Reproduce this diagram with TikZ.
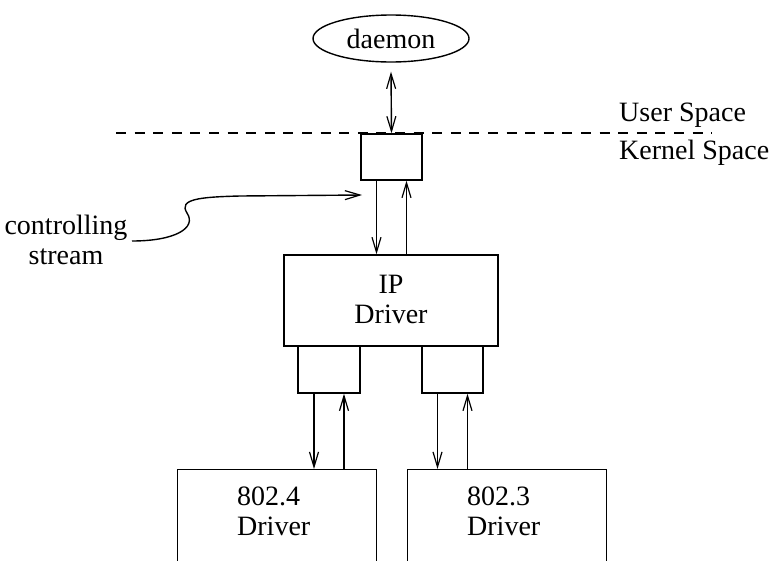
\documentclass[tikz,border=0pt]{standalone}
\usepackage{fontspec}
\setmainfont{Liberation Serif}
\usetikzlibrary{arrows.meta,shapes.geometric}
\begin{document}
\begin{tikzpicture}[x=1pt,y=-1pt,
  every node/.style={font=\fontsize{28}{30}\selectfont},
  box/.style={draw,line width=1.4pt,rectangle,inner sep=0pt},
  oval/.style={draw,line width=1.4pt,ellipse,inner sep=0pt},
  conn/.style={line width=1.4pt},
  arr/.style={conn,-{Straight Barb[length=15pt,width=9pt,line width=1.2pt]}},
  darr/.style={conn,{Straight Barb[length=15pt,width=9pt,line width=1.2pt]}-{Straight Barb[length=15pt,width=9pt,line width=1.2pt]}},
  txt/.style={inner sep=0pt}]
\useasboundingbox (0,0) rectangle (773,560);

% nodes
\node[oval,minimum width=156pt,minimum height=47pt] (daemon) at (391,38.5) {daemon};
\node[box,minimum width=61pt,minimum height=46pt] (ctl) at (391.5,157) {};
\node[box,minimum width=214pt,minimum height=91pt,align=center,text depth=2pt] (ip) at (391,300.5) {IP\\Driver};
\node[box,minimum width=62pt,minimum height=47pt] (lb1) at (329,369.5) {};
\node[box,minimum width=61pt,minimum height=47pt] (lb2) at (452.5,369.5) {};
\node[box,minimum width=199pt,minimum height=130pt,anchor=north west] (d4) at (177,469) {};
\node[box,minimum width=199pt,minimum height=130pt,anchor=north west] (d3) at (407,469) {};
\node[txt,anchor=north west,align=left] (d4t) at (237,487) {802.4\\Driver};
\node[txt,anchor=north west,align=left] (d3t) at (467,487) {802.3\\Driver};

\node[txt,anchor=west] (us) at (619,115) {User Space};
\node[txt,anchor=west] (ks) at (619,153) {Kernel Space};
\node[txt,align=center] (cs) at (66,240) {controlling\\stream};

% user/kernel boundary
\draw[line width=1.3pt,dash pattern=on 10pt off 8.6pt] (116,133) -- (712,133);

% connectors
\draw[darr] ([yshift=-9pt]daemon.south) -- (ctl.north);
\draw[arr] ([xshift=-15pt]ctl.south) -- ([xshift=-15pt]ctl.south |- ip.north);
\draw[arr] ([xshift=15pt]ctl.south |- ip.north) -- ([xshift=15pt]ctl.south);
\draw[arr] ([xshift=-15pt]lb1.south) -- ([xshift=-15pt]lb1.south |- d4.north);
\draw[arr] ([xshift=15pt]lb1.south |- d4.north) -- ([xshift=15pt]lb1.south);
\draw[arr] ([xshift=-15pt]lb2.south) -- ([xshift=-15pt]lb2.south |- d3.north);
\draw[arr] ([xshift=15pt]lb2.south |- d3.north) -- ([xshift=15pt]lb2.south);

% controlling stream pointer
\coordinate (csa) at (132,241);
\coordinate (csb) at (362,195);
\draw[arr] (csa) .. controls (175,241) and (197,228) .. (187,213)
  .. controls (178,199) and (200,197) .. (240,196) -- (csb);
\end{tikzpicture}
\end{document}
